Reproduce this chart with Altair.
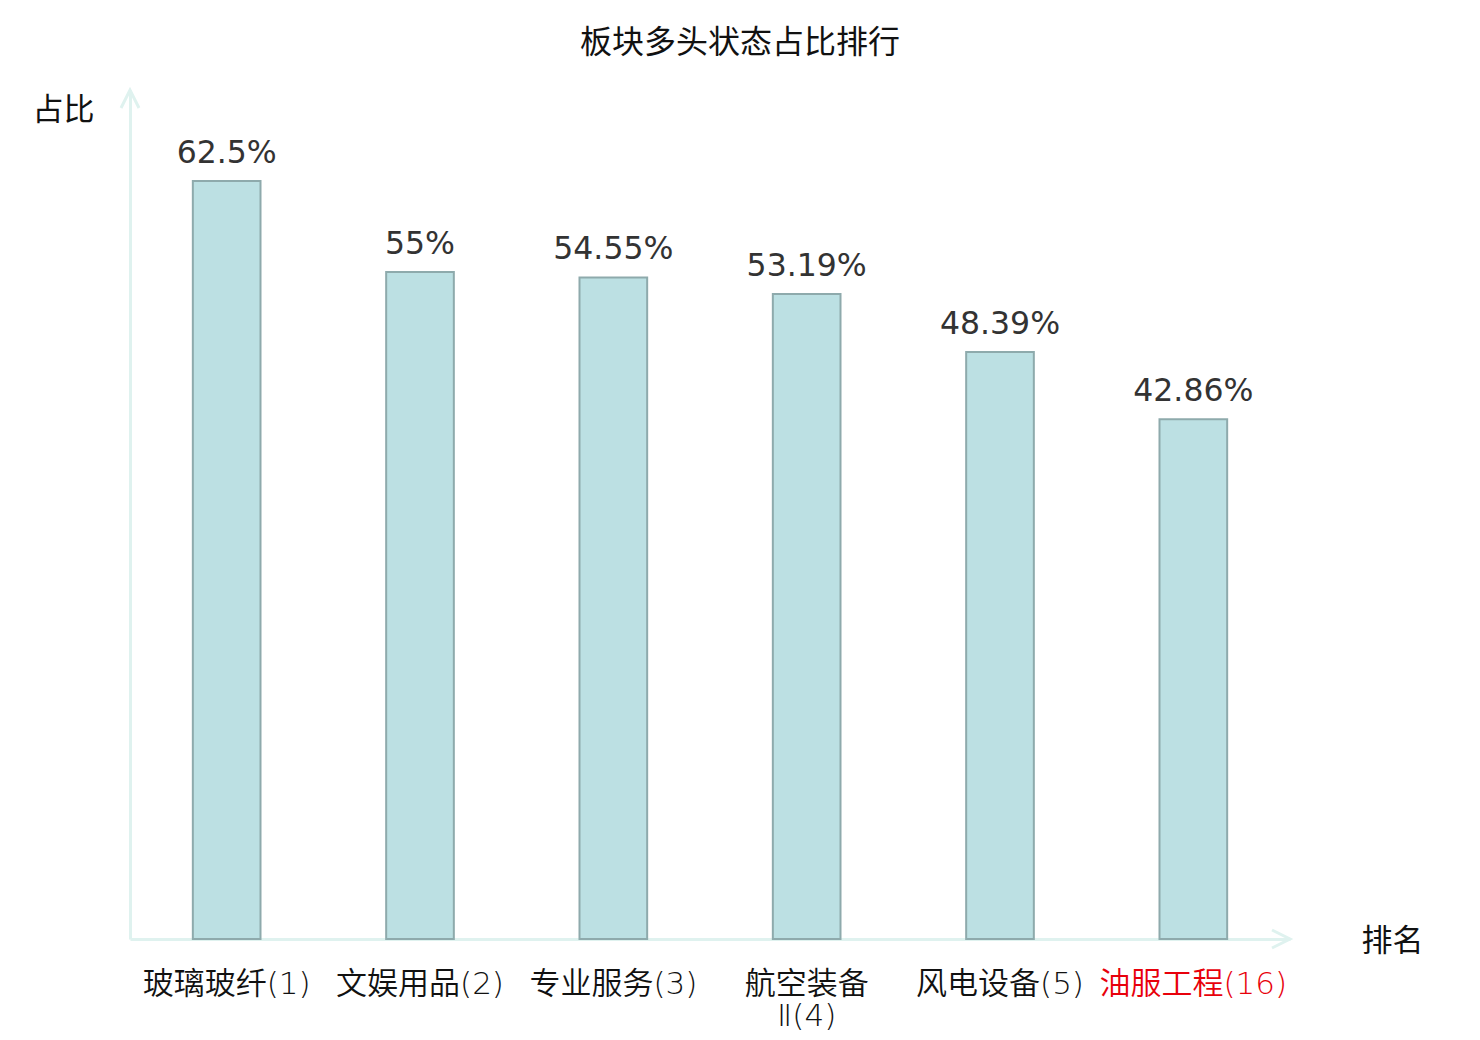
import altair as alt
import pandas as pd

# ---- data ----
categories = ["玻璃玻纤(1)", "文娱用品(2)", "专业服务(3)", "航空装备\nⅡ(4)", "风电设备(5)", "油服工程(16)"]
values = [62.5, 55, 54.55, 53.19, 48.39, 42.86]
value_labels = ["62.5%", "55%", "54.55%", "53.19%", "48.39%", "42.86%"]
highlight = "油服工程(16)"

title_text = "板块多头状态占比排行"
y_title = "占比"
x_title = "排名"

df = pd.DataFrame({"cat": categories, "val": values, "lbl": value_labels})

W, H = 1160, 849
AXIS_COLOR = "#dff2ef"
CJK = "Noto Sans CJK SC"
LABEL_FONT = "DejaVu Sans, Noto Sans CJK SC"

x_enc = alt.X(
    "cat:N",
    sort=categories,
    scale=alt.Scale(paddingInner=0.65, paddingOuter=0.325),
    axis=alt.Axis(
        title=x_title,
        titleFont=CJK,
        titleFontSize=31,
        titleFontWeight="normal",
        titleColor="#111",
        titleAngle=0,
        titleX=1262,
        titleY=2,
        titleAlign="center",
        titleBaseline="middle",
        labelAngle=0,
        labelFont=LABEL_FONT,
        labelFontWeight={"expr": "350"},
        labelFontSize=31,
        labelLineHeight=32,
        labelPadding=30,
        labelExpr="split(datum.label, '\\n')",
        labelColor={"condition": {"test": f"datum.value == '{highlight}'", "value": "#e8000b"}, "value": "#111"},
        labelLimit=400,
        ticks=False,
        domainColor=AXIS_COLOR,
        domainWidth=3,
        grid=False,
    ),
)

y_enc = alt.Y(
    "val:Q",
    scale=alt.Scale(domain=[0, 70], nice=False, zero=True),
    axis=alt.Axis(
        title=y_title,
        titleFont=CJK,
        titleFontSize=31,
        titleFontWeight="normal",
        titleColor="#111",
        titleAngle=0,
        titleX=-67,
        titleY=20,
        titleAlign="center",
        titleBaseline="middle",
        labels=False,
        ticks=False,
        grid=False,
        domainColor=AXIS_COLOR,
        domainWidth=3,
    ),
)

bars = alt.Chart(df).mark_bar(
    fill="#bce0e3", stroke="#8eaaac", strokeWidth=2
).encode(x=x_enc, y=y_enc)

texts = alt.Chart(df).mark_text(
    baseline="alphabetic", dy=-18, font="DejaVu Sans", fontSize=31.5, color="#333333"
).encode(x=alt.X("cat:N", sort=categories), y="val:Q", text="lbl:N")

one = pd.DataFrame({"a": [0]})
arrow_right = alt.Chart(one).mark_point(
    shape="M-1,-0.5L0,0L-1,0.5", filled=False, stroke=AXIS_COLOR, strokeWidth=3, size=1296, opacity=1
).encode(x=alt.value(W), y=alt.value(H))
arrow_up = alt.Chart(one).mark_point(
    shape="M-0.5,1L0,0L0.5,1", filled=False, stroke=AXIS_COLOR, strokeWidth=3, size=1296, opacity=1
).encode(x=alt.value(0), y=alt.value(0))

chart = alt.layer(bars, texts, arrow_right, arrow_up).properties(
    width=W,
    height=H,
    autosize="none",
    padding={"left": 122, "top": 82, "right": 150, "bottom": 92},
    title=alt.TitleParams(
        text=title_text, font=CJK, fontSize=32, fontWeight="normal", color="#111",
        anchor="middle", dx=30, offset=24,
    ),
).configure_view(stroke=None)

chart.save("out.html", embed_options={"renderer": "svg", "actions": False})
